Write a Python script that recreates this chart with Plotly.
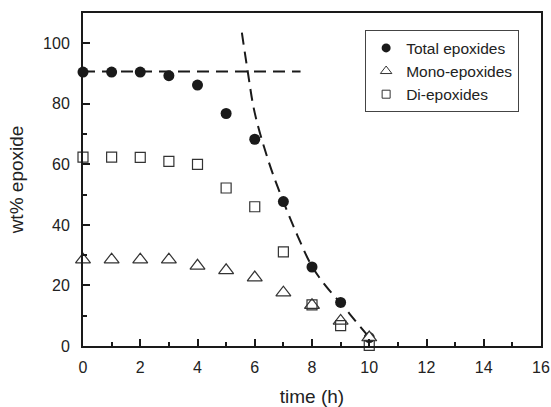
import plotly.graph_objects as go

# Measured epoxide content (wt%) vs reaction time (h)
time_h = [0, 1, 2, 3, 4, 5, 6, 7, 8, 9, 10]
total_epoxides = [90.5, 90.5, 90.5, 89.3, 86.2, 76.8, 68.3, 47.7, 26.1, 14.4, 2.8]
mono_epoxides = [28.5, 28.5, 28.5, 28.5, 26.5, 25.0, 22.6, 17.6, 13.5, 8.3, 2.8]
di_epoxides = [62.4, 62.4, 62.3, 61.0, 60.0, 52.2, 46.0, 31.1, 13.6, 6.7, 0.2]

# Guide lines: plateau level and decay trend
plateau_t = [0, 7.6]
plateau_wt = [90.7, 90.7]
decay_t = [5.55, 5.75, 6.0, 6.5, 7.0, 7.5, 8.0, 8.5, 9.0, 9.5, 10.0]
decay_wt = [103.5, 91.0, 77.0, 60.5, 47.7, 36.3, 26.3, 19.6, 14.2, 8.5, 2.8]

x_ticks = [0, 2, 4, 6, 8, 10, 12, 14, 16]
y_ticks = [0, 20, 40, 60, 80, 100]

FONT = "Liberation Sans, Arial, sans-serif"
INK = "#1a1a1a"

fig = go.Figure()

fig.add_trace(go.Scatter(
    x=plateau_t, y=plateau_wt, mode="lines", showlegend=False,
    line=dict(color=INK, width=2, dash="12px,7px"), hoverinfo="skip"))
fig.add_trace(go.Scatter(
    x=decay_t, y=decay_wt, mode="lines", showlegend=False,
    line=dict(color=INK, width=2, dash="12px,7px", shape="spline"),
    hoverinfo="skip"))

fig.add_trace(go.Scatter(
    x=time_h, y=total_epoxides, mode="markers", showlegend=False,
    cliponaxis=False,
    marker=dict(symbol="circle", size=11, color=INK,
                line=dict(color=INK, width=0))))
fig.add_trace(go.Scatter(
    x=time_h, y=mono_epoxides, mode="markers", showlegend=False,
    cliponaxis=False,
    marker=dict(symbol="triangle-up", size=13, color="white",
                line=dict(color="#333333", width=1.2))))
fig.add_trace(go.Scatter(
    x=time_h, y=di_epoxides, mode="markers", showlegend=False,
    cliponaxis=False,
    marker=dict(symbol="square-open", size=10, color="#333333",
                line=dict(color="#333333", width=1.2))))

# Legend entries with smaller symbols
fig.add_trace(go.Scatter(
    x=[None], y=[None], mode="markers", name="Total epoxides",
    marker=dict(symbol="circle", size=9, color=INK)))
fig.add_trace(go.Scatter(
    x=[None], y=[None], mode="markers", name="Mono-epoxides",
    marker=dict(symbol="triangle-up", size=10, color="white",
                line=dict(color="#333333", width=1))))
fig.add_trace(go.Scatter(
    x=[None], y=[None], mode="markers", name="Di-epoxides",
    marker=dict(symbol="square-open", size=8, color="#333333",
                line=dict(color="#333333", width=1))))

axis_common = dict(
    showline=True, linecolor=INK, linewidth=2, mirror=True,
    showgrid=False, zeroline=False, automargin=False,
    ticks="inside", ticklen=7, tickwidth=2, tickcolor=INK,
    tickfont=dict(family=FONT, size=16, color="#222222"),
)

fig.update_xaxes(
    range=[0, 16], tickvals=x_ticks, ticktext=[str(v) for v in x_ticks],
    minor=dict(dtick=1, ticks="inside", ticklen=4, tickwidth=2, tickcolor=INK),
    title=dict(text="time (h)", font=dict(family=FONT, size=19, color="#222222"),
               standoff=16),
    ticklabelstandoff=6,
    **axis_common)
fig.update_yaxes(
    range=[0, 110], tickvals=y_ticks, ticktext=[str(v) for v in y_ticks],
    minor=dict(tickvals=[10, 30, 50, 70, 90], ticks="inside", ticklen=4,
               tickwidth=2, tickcolor=INK),
    title=dict(text="wt% epoxide", font=dict(family=FONT, size=19, color="#222222"),
               standoff=14),
    ticklabelstandoff=8,
    **axis_common)

fig.update_layout(
    width=551, height=407,
    margin=dict(l=83, r=10, t=13, b=61),
    paper_bgcolor="white", plot_bgcolor="white",
    font=dict(family=FONT, color="#222222"),
    legend=dict(
        x=0.616, y=0.948, xanchor="left", yanchor="top",
        bgcolor="white", bordercolor="#444444", borderwidth=1,
        font=dict(family=FONT, size=15.5, color="#222222"),
        tracegroupgap=0,
    ),
)

fig.write_html("out.html")
